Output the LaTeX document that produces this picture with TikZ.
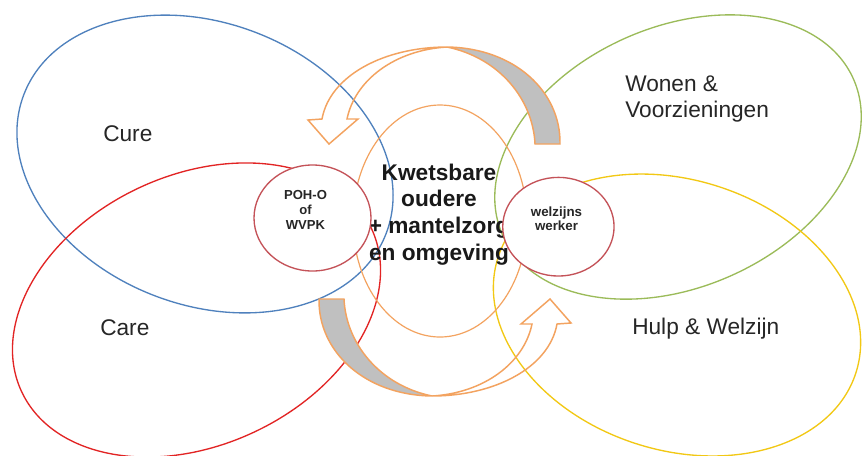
\documentclass[tikz,border=0pt]{standalone}
\usepackage{fontspec}
\setmainfont{Liberation Sans}
\usetikzlibrary{shapes.geometric}
\definecolor{cureblue}{RGB}{79,129,189}
\definecolor{carered}{RGB}{226,36,36}
\definecolor{wonengreen}{RGB}{155,187,89}
\definecolor{hulpyellow}{RGB}{242,200,20}
\definecolor{softorange}{RGB}{243,163,96}
\definecolor{roleedge}{RGB}{196,82,88}
\definecolor{backgray}{RGB}{192,192,192}
\tikzset{
  bigoval/.style={ellipse, draw, line width=1pt, inner sep=0pt, outer sep=0pt},
  roleoval/.style={ellipse, draw=roleedge, fill=white, line width=1pt, inner sep=0pt, outer sep=0pt},
  arrowline/.style={draw=softorange, line width=1.1pt, line join=miter},
  grayface/.style={arrowline, fill=backgray},
  domainlabel/.style={font=\fontsize{17}{20}\selectfont, inner sep=0pt, text=black!85},
  centrallabel/.style={font=\bfseries\fontsize{17}{20}\selectfont, align=center, inner sep=0pt, text=black!90},
  rolelabel/.style={font=\bfseries\fontsize{9.8}{11.5}\selectfont, align=center, inner sep=0pt, text=black!85},
}
\begin{document}
\begin{tikzpicture}[x=0.75pt,y=-0.75pt]
\fill[white] (0,0) rectangle (862,455);
\clip (0,0) rectangle (862,455);
\useasboundingbox (0,0) rectangle (862,455);

% domain ellipses
\node[bigoval, draw=cureblue, minimum width=291pt, minimum height=211.5pt, rotate=-21] (cure) at (205,164) {};
\node[bigoval, draw=carered, minimum width=289.5pt, minimum height=202.5pt, rotate=25] (care) at (196.5,310) {};
\node[bigoval, draw=wonengreen, minimum width=288pt, minimum height=195pt, rotate=24] (wonen) at (678,157) {};
\node[bigoval, draw=hulpyellow, minimum width=282pt, minimum height=202.5pt, rotate=-18] (hulp) at (677,315) {};

% central ellipse
\node[bigoval, draw=softorange, line width=0.9pt, minimum width=130.5pt, minimum height=174pt] (centre) at (440,221) {};

% top curved arrow
\coordinate (tt) at (447,47);
\draw[arrowline] (tt) .. controls (385,47) and (330,75) .. (322,119)
  -- (308,120) -- (329,144) -- (358,119) -- (347,119)
  .. controls (355,80) and (395,50) .. (tt);
\filldraw[grayface] (tt) .. controls (515,48) and (561,92) .. (560,144)
  -- (535,144) .. controls (533,100) and (500,58) .. (tt) -- cycle;

% bottom curved arrow (point symmetric)
\begin{scope}[rotate around={180:(439.5,221.5)}]
\coordinate (bt) at (447,47);
\draw[arrowline] (bt) .. controls (385,47) and (330,75) .. (322,119)
  -- (308,120) -- (329,144) -- (358,119) -- (347,119)
  .. controls (355,80) and (395,50) .. (bt);
\filldraw[grayface] (bt) .. controls (515,48) and (561,92) .. (560,144)
  -- (535,144) .. controls (533,100) and (500,58) .. (bt) -- cycle;
\end{scope}

% central text
\node[centrallabel] (kwets) at (439,214.3) {Kwetsbare\\oudere\\+ mantelzorg\\en omgeving};

% role circles
\node[roleoval, minimum width=87.75pt, minimum height=79.5pt] (poh) at (312.5,218) {};
\node[roleoval, minimum width=83.5pt, minimum height=74pt] (welz) at (558.4,226.7) {};
\node[rolelabel] (pohtext) at (305.5,210) {POH-O\\of\\WVPK};
\node[rolelabel, font=\bfseries\fontsize{10}{10.5}\selectfont] (welztext) at (556.5,218.5) {welzijns\\werker};

% domain labels
\node[domainlabel, anchor=base west] (curetext) at (103,141.7) {Cure};
\node[domainlabel, anchor=base west] (caretext) at (100,335) {Care};
\node[domainlabel, anchor=north west, align=left] (wonentext) at (625,75.3) {Wonen \&\\Voorzieningen};
\node[domainlabel, anchor=base west] (hulptext) at (632,334) {Hulp \& Welzijn};
\end{tikzpicture}
\end{document}
